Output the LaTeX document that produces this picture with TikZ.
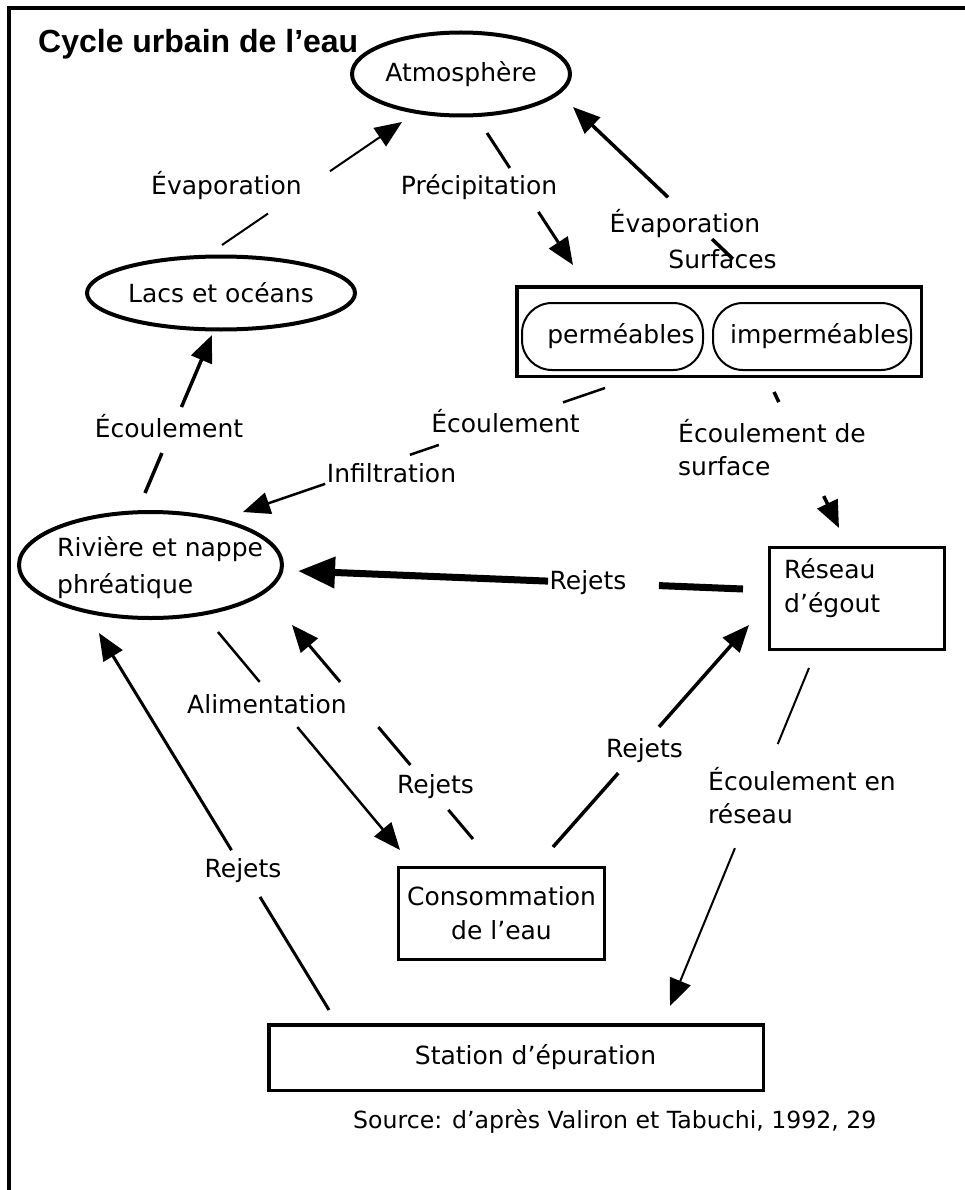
\documentclass[tikz,border=0pt]{standalone}
\usepackage{fontspec}
\setmainfont{DejaVu Sans}
\newfontfamily\titlefont{Liberation Sans}
\usetikzlibrary{arrows.meta,calc,shapes.geometric}
\begin{document}
\begin{tikzpicture}[x=1pt,y=-1pt,
  txt/.style={inner sep=0pt, font=\fontsize{25}{34}\selectfont},
  oval/.style={draw, ellipse, line width=4pt, inner sep=0pt, font=\fontsize{25}{34}\selectfont},
  boxnode/.style={draw, rectangle, line width=3pt, inner sep=0pt, font=\fontsize{25}{34}\selectfont},
  pill/.style={draw, rectangle, rounded corners=30pt, line width=2pt, inner sep=0pt, font=\fontsize{25}{34}\selectfont},
  head/.style={-{Triangle[length=27pt,width=22pt]}},
  bighead/.style={-{Triangle[length=37pt,width=30pt]}},
]
\fill[white] (0,0) rectangle (965,1190);
\useasboundingbox (0,0) rectangle (965,1190);
% frame
\draw[line width=3.5pt] (965,8) -- (9,8) -- (9,1190);
% title
\node[anchor=base west, inner sep=0pt, font=\titlefont\bfseries\fontsize{32}{38}\selectfont] (title) at (38,53) {Cycle urbain de l’eau};

% nodes
\node[oval, minimum width=218pt, minimum height=83pt] (atmo) at (461,74) {Atmosphère};
\node[oval, minimum width=268pt, minimum height=73pt] (lacs) at (221,293) {Lacs et océans};
\node[oval, minimum width=263pt, minimum height=106pt] (riv) at (150.5,565) {};
\node[txt, anchor=base west, align=left, font=\fontsize{25}{37}\selectfont] (rivtxt) at (57,593) {Rivière et nappe\\phréatique};
\node[boxnode, line width=3.5pt, minimum width=404.5pt, minimum height=89.5pt] (surf) at (719,331.5) {};
\node[pill, minimum width=181pt, minimum height=67pt] (perm) at (612.5,336.5) {\hspace*{17pt}perméables};
\node[pill, minimum width=198pt, minimum height=67pt] (imperm) at (812,336.5) {\hspace*{15pt}imperméables};
\node[txt, anchor=base] (surflbl) at (722.5,269) {Surfaces};
\node[boxnode, minimum width=175pt, minimum height=102pt] (res) at (857,598.5) {};
\node[txt, anchor=base west, align=left] (restxt) at (784,612) {Réseau\\d’égout};
\node[boxnode, minimum width=206pt, minimum height=92pt, align=center] (cons) at (501.5,913.5) {Consommation\\de l’eau};
\node[boxnode, line width=3.5pt, minimum width=494.5pt, minimum height=65.5pt] (stat) at (516,1057.5) {\hspace*{39pt}Station d’épuration};

% labels
\node[txt, anchor=base] (l1) at (226.5,195) {Évaporation};
\node[txt, anchor=base] (l2) at (479,195) {Précipitation};
\node[txt, anchor=base] (l3) at (685,233) {Évaporation};
\node[txt, anchor=base] (l4) at (169,437) {Écoulement};
\node[txt, anchor=base] (l5) at (505.5,432) {Écoulement};
\node[txt, anchor=base] (l6) at (391.5,482) {Infiltration};
\node[txt, anchor=base west, align=left, font=\fontsize{25}{33}\selectfont] (l7) at (678,475) {Écoulement de\\surface};
\node[txt, anchor=base] (l8) at (588,589) {Rejets};
\node[txt, anchor=base] (l9) at (267,713) {Alimentation};
\node[txt, anchor=base] (l10) at (435.5,793) {Rejets};
\node[txt, anchor=base] (l11) at (644.5,757) {Rejets};
\node[txt, anchor=base west, align=left, font=\fontsize{25}{33}\selectfont] (l12) at (708,823) {Écoulement en\\réseau};
\node[txt, anchor=base] (l13) at (243,877) {Rejets};
\node[txt, anchor=base west, font=\fontsize{23.6}{28}\selectfont] (src) at (353,1128) {Source: d’après Valiron et Tabuchi, 1992, 29};

% connector end points (relative to node centres)
\coordinate (a1) at ($(lacs.center)+(1,-48)$);   \coordinate (b1) at ($(atmo.center)+(-59,48)$);
\coordinate (a2) at ($(atmo.center)+(26,59)$);   \coordinate (b2) at ($(surf.center)+(-146,-66.5)$);
\coordinate (a3) at ($(surf.center)+(14,-72.5)$); \coordinate (b3) at ($(atmo.center)+(112,33)$);
\coordinate (a4) at ($(riv.center)+(-5.5,-72)$); \coordinate (b4) at ($(lacs.center)+(-9,42)$);
\coordinate (a5) at ($(surf.center)+(-114,56.5)$); \coordinate (b5) at ($(riv.center)+(92.5,-53)$);
\coordinate (a6) at ($(surf.center)+(55,60.5)$); \coordinate (b6) at ($(res.center)+(-18,-70.5)$);
\coordinate (a7) at ($(res.center)+(-114,-9.5)$); \coordinate (b7) at ($(riv.center)+(147.5,6)$);
\coordinate (a8) at ($(riv.center)+(67.5,67)$);  \coordinate (b8) at ($(cons.center)+(-101.5,-63.5)$);
\coordinate (a9) at ($(cons.center)+(-28.5,-74.5)$); \coordinate (b9) at ($(riv.center)+(141.5,60)$);
\coordinate (a10) at ($(cons.center)+(51.5,-66.5)$); \coordinate (b10) at ($(res.center)+(-108,26.5)$);
\coordinate (a11) at ($(res.center)+(-48,69.5)$); \coordinate (b11) at ($(stat.center)+(154,-51.5)$);
\coordinate (a12) at ($(stat.center)+(-187,-47.5)$); \coordinate (b12) at ($(riv.center)+(-51.5,68)$);

% connectors with gaps for labels
\draw[line width=2pt, head] (a1) -- ($(a1)!.256!(b1)$) ($(a1)!.6!(b1)$) -- (b1);
\draw[line width=3pt, head] (a2) -- ($(a2)!.265!(b2)$) ($(a2)!.598!(b2)$) -- (b2);
\draw[line width=3.5pt, head] (a3) -- ($(a3)!.131!(b3)$) ($(a3)!.406!(b3)$) -- (b3);
\draw[line width=3.5pt, head] (a4) -- ($(a4)!.253!(b4)$) ($(a4)!.544!(b4)$) -- (b4);
\draw[line width=2.5pt, head] (a5) -- ($(a5)!.116!(b5)$) ($(a5)!.459!(b5)$) -- ($(a5)!.539!(b5)$) ($(a5)!.773!(b5)$) -- (b5);
\draw[line width=3.5pt, head] (a6) -- ($(a6)!.074!(b6)$) ($(a6)!.765!(b6)$) -- (b6);
\draw[line width=7pt, bighead] (a7) -- ($(a7)!.189!(b7)$) ($(a7)!.438!(b7)$) -- (b7);
\draw[line width=2.5pt, head] (a8) -- ($(a8)!.229!(b8)$) ($(a8)!.436!(b8)$) -- (b8);
\draw[line width=3pt, head] (a9) -- ($(a9)!.136!(b9)$) ($(a9)!.346!(b9)$) -- ($(a9)!.523!(b9)$) ($(a9)!.734!(b9)$) -- (b9);
\draw[line width=3.5pt, head] (a10) -- ($(a10)!.333!(b10)$) ($(a10)!.541!(b10)$) -- (b10);
\draw[line width=2pt, head] (a11) -- ($(a11)!.225!(b11)$) ($(a11)!.533!(b11)$) -- (b11);
\draw[line width=3pt, head] (a12) -- ($(a12)!.3!(b12)$) ($(a12)!.424!(b12)$) -- (b12);
\end{tikzpicture}
\end{document}
